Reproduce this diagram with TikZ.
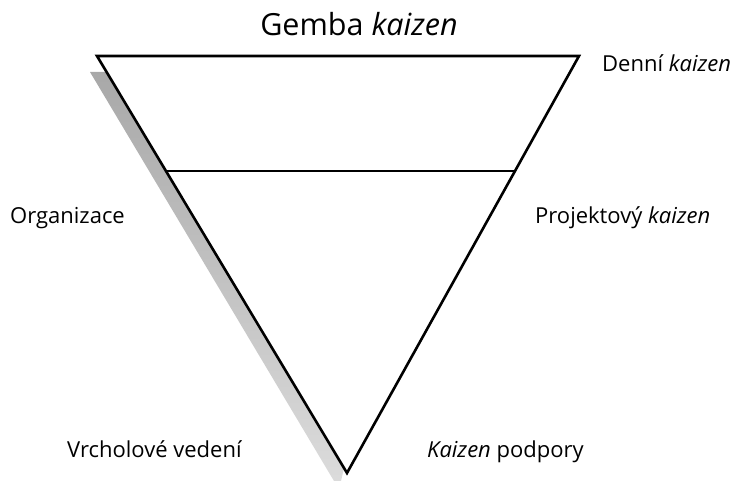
\documentclass[tikz,border=0pt]{standalone}
\usepackage{fontspec}
\setmainfont{Open Sans}
\usetikzlibrary{positioning, calc}

\begin{document}
\begin{tikzpicture}[
    x=1pt, y=-1pt,
    level/.style={font=\fontsize{22}{26}\selectfont, inner sep=0pt},
    heading/.style={font=\fontsize{30.5}{34}\selectfont, inner sep=0pt},
    edge/.style={draw=black, line width=2.6pt, line join=miter}
]
    \useasboundingbox (0,0) rectangle (732,481);

    % Triangle corners
    \coordinate (tl) at (97,56);
    \coordinate (tr) at (579,56);
    \coordinate (apex) at (347,473);

    % Shadow
    \shade[top color=black!34, bottom color=black!14]
        (90,72) -- (107,72) -- (344,468) -- (341,481) -- (334,481) -- cycle;

    % Triangle
    \draw[edge, fill=white] (tl) -- (tr) -- (apex) -- cycle;
    \coordinate (dl) at ($(tl)!0.275!(apex)$);
    \coordinate (dr) at ($(tr)!0.275!(apex)$);
    \draw[edge, line width=2.3pt] (dl) -- (dr);

    % Labels
    \node[heading, anchor=base] (gemba) at (359,36) {Gemba \textit{kaizen}};
    \node[level, anchor=base west] (denni) at (602,72) {Denní \textit{kaizen}};
    \node[level, anchor=base west] (org) at (10,224) {Organizace};
    \node[level, anchor=base west] (proj) at (535,224) {Projektový \textit{kaizen}};
    \node[level, anchor=base west] (vrchol) at (67,457) {Vrcholové vedení};
    \node[level, anchor=base west] (podpora) at (427,457) {\textit{Kaizen} podpory};
\end{tikzpicture}
\end{document}
